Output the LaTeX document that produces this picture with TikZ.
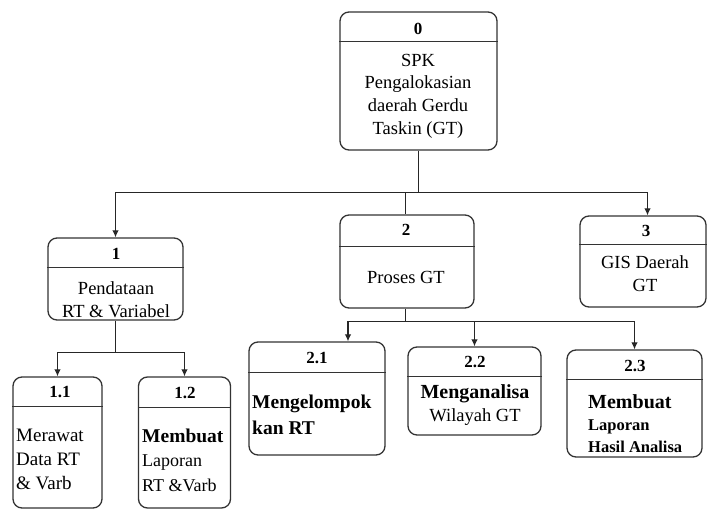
\documentclass[tikz,border=0pt]{standalone}
\usepackage{fontspec}
\setmainfont{Liberation Serif}
\usetikzlibrary{arrows.meta}

\begin{document}
\begin{tikzpicture}[x=1pt, y=-1pt,
  box/.style={draw=black!80, rounded corners=9pt, line width=1.3pt, inner sep=0pt},
  hline/.style={draw=black!80, line width=1.3pt},
  conn/.style={draw=black!85, line width=1.1pt},
  num/.style={inner sep=0pt, font=\fontsize{17}{20}\selectfont\bfseries},
  lbl/.style={inner sep=0pt, align=center, font=\fontsize{18.5}{22.7}\selectfont},
  arr/.style={conn, -{Latex[length=7pt,width=6.5pt]}}]
\useasboundingbox (0,0) rectangle (708,510);

% boxes
\node[box, minimum width=157pt, minimum height=138pt] (b0) at (418.5,81) {};
\node[box, minimum width=135pt, minimum height=82pt] (b1) at (115.5,279) {};
\node[box, minimum width=134pt, minimum height=93pt] (b2) at (407,261.5) {};
\node[box, minimum width=126pt, minimum height=91pt] (b3) at (643,261.5) {};
\node[box, minimum width=89pt, minimum height=131pt] (b11) at (57.5,442.5) {};
\node[box, minimum width=92pt, minimum height=131pt] (b12) at (184.5,442.5) {};
\node[box, minimum width=136pt, minimum height=113pt] (b21) at (317,398.5) {};
\node[box, minimum width=133pt, minimum height=88pt] (b22) at (474.5,391) {};
\node[box, minimum width=135pt, minimum height=107pt] (b23) at (634.5,403.5) {};

% header lines
\foreach \b/\h in {b0/30, b1/30, b2/32, b3/29, b11/30, b12/31, b21/31, b22/30, b23/30}
  \draw[hline] ([yshift=-\h pt]\b.north west) -- ([yshift=-\h pt]\b.north east);

% numbers
\node[num] (n0) at (418,29) {0};
\node[num] (n1) at (116,254) {1};
\node[num] (n2) at (406,230) {2};
\node[num] (n3) at (646,231) {3};
\node[num] (n11) at (60,392) {1.1};
\node[num] (n12) at (185,393) {1.2};
\node[num] (n21) at (317,358) {2.1};
\node[num] (n22) at (475,362) {2.2};
\node[num] (n23) at (635,366) {2.3};

% texts
\node[lbl] (t0) at (418,96) {SPK\\Pengalokasian\\daerah Gerdu\\Taskin (GT)};
\node[lbl] (t1) at (116,300) {Pendataan\\RT \& Variabel};
\node[lbl] (t2) at (406,277) {Proses GT};
\node[lbl] (t3) at (645,274) {GIS Daerah\\GT};
\node[lbl, align=left, anchor=west, font=\fontsize{19}{24}\selectfont] (t11) at (16,459) {Merawat\\Data RT\\\& Varb};
\node[lbl, align=left, anchor=west, font=\fontsize{18}{24.5}\selectfont] (t12) at (142,460) {{\fontsize{19.5}{24}\selectfont\bfseries Membuat}\\Laporan\\RT \&Varb};
\node[lbl, align=left, anchor=west, font=\fontsize{19.5}{26}\selectfont\bfseries] (t21) at (252,415) {Mengelompok\\kan RT};
\node[lbl] (t22) at (475,405) {{\fontsize{20}{24}\selectfont\bfseries Menganalisa}\\Wilayah GT};
\node[lbl, align=left, anchor=west, font=\fontsize{16.5}{22}\selectfont\bfseries] (t23) at (588,424) {{\fontsize{20}{22}\selectfont Membuat}\\Laporan\\Hasil Analisa};

% connectors
\coordinate (j0) at (418.5,192.5);
\coordinate (j1) at (115.5,352.5);
\coordinate (j2) at (405.5,321.5);
\draw[conn] (b0) -- (j0);
\draw[arr] (j0) -| (b1);
\draw[conn] (j0) -| (b2.north -| j2);
\draw[arr] (j0) -| ([xshift=4.5pt]b3.north);
\draw[conn] (b1) -- (j1);
\draw[arr] (j1) -| (b11);
\draw[arr] (j1) -| (b12);
\draw[conn] (b2.south -| j2) -- (j2);
\draw[arr] (j2) -| ([xshift=31pt]b21.north);
\draw[arr] (j2) -| (b22);
\draw[arr] (j2) -| (b23);
\end{tikzpicture}
\end{document}
